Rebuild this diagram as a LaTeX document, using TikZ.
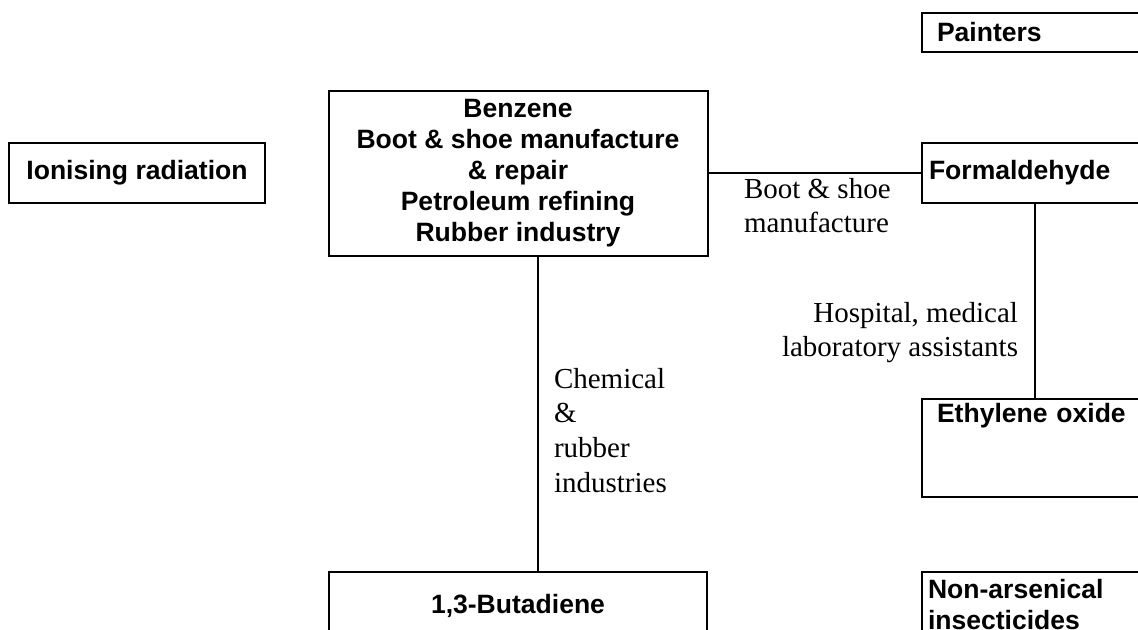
\documentclass[tikz,border=0pt]{standalone}
\usepackage{fontspec}
\setmainfont{Liberation Serif}
\newfontfamily\arialfont{Liberation Sans}

\tikzset{every picture/.style={line width=1.5pt}}
\tikzset{
	box/.style={draw, inner ysep=0pt, outer sep=0pt, font={\arialfont\bfseries\fontsize{19.9pt}{23.25pt}\selectfont}},
	boxl/.style={box, align=left},
	lbl/.style={inner sep=0pt, font={\fontsize{21.75pt}{26pt}\selectfont}},
	link/.style={draw, line width=1.5pt}
}

\begin{document}
\begin{tikzpicture}[x=0.75pt,y=0.75pt,yscale=-1,xscale=1]
	\useasboundingbox (0,0) rectangle (1138,629);
	\clip (0,0) rectangle (1138,629);

	%Shape: Rectangle [id:ion] 
	\node[box, minimum width=192pt, minimum height=45pt] (ion) at (137,173) {Ionising radiation};
	%Shape: Rectangle [id:benz] 
	\node[box, align=center, minimum width=284.25pt, minimum height=123.75pt] (benz) at (518,173) {Benzene\\Boot \& shoe manufacture\\\& repair\\Petroleum refining\\Rubber industry};
	%Shape: Rectangle [id:paint] 
	\node[boxl, text width=147pt, inner xsep=11.25pt, minimum height=29.25pt, anchor=north west] (paint) at (922,13) {Painters};
	%Shape: Rectangle [id:form] 
	\node[boxl, text width=159pt, inner xsep=5.25pt, minimum height=45pt, anchor=north west] (form) at (922,143) {Formaldehyde};
	%Shape: Rectangle [id:eth] 
	\node[boxl, text width=147pt, inner xsep=11.25pt, text height=17.25pt, text depth=56.25pt, anchor=north west] (eth) at (922,399) {Ethylene oxide};
	%Shape: Rectangle [id:nonars] 
	\node[boxl, text width=160.5pt, inner xsep=4.5pt, text height=19.5pt, text depth=60pt, anchor=north west] (nonars) at (922,572) {Non-arsenical\\insecticides};
	%Shape: Rectangle [id:buta] 
	\node[box, minimum width=283.5pt, text height=30.75pt, text depth=45pt, anchor=north] (buta) at (518,572) {1,3-Butadiene};

	%Straight Lines [id:benz-form] 
	\draw[link] (benz.east) -- (form.west) ;
	%Straight Lines [id:form-eth] 
	\draw[link] (form.south) -- (eth.north) ;
	%Straight Lines [id:benz-buta] 
	\draw[link] ([xshift=15pt]benz.south) -- ([xshift=15pt]buta.north) ;

	% Text Node
	\node[lbl, align=left, anchor=north west] (bootlbl) at (743,177) {Boot \& shoe\\manufacture};
	% Text Node
	\node[lbl, align=right, anchor=north east] (hosplbl) at (1019,301) {Hospital, medical\\laboratory assistants};
	% Text Node
	\node[lbl, align=left, anchor=north west] (chemlbl) at (553,367) {Chemical\\\&\\rubber\\industries};

\end{tikzpicture}
\end{document}
